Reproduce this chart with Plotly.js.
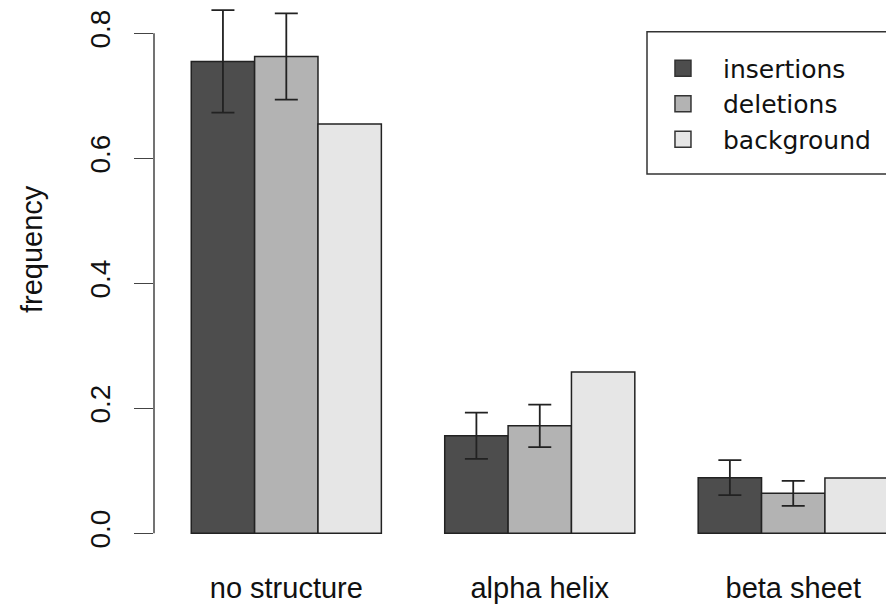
<!DOCTYPE html>
<html>
<head>
<meta charset="utf-8">
<script src="https://cdn.plot.ly/plotly-3.0.1.min.js"></script>
<style>
  html, body { margin: 0; padding: 0; background: #ffffff; }
  #chart { width: 886px; height: 604px; }
</style>
</head>
<body>
<div id="chart"></div>
<script>
// Secondary-structure context of indels vs. background frequency
const categories = ["no structure", "alpha helix", "beta sheet"];
const insertions = [0.755, 0.156, 0.089];
const insertionsErr = [0.082, 0.037, 0.028];
const deletions = [0.763, 0.172, 0.064];
const deletionsErr = [0.069, 0.034, 0.020];
const background = [0.655, 0.258, 0.0885];
const seriesNames = ["insertions", "deletions", "background"];
const seriesColors = ["#4d4d4d", "#b3b3b3", "#e6e6e6"];
const yTickVals = [0, 0.2, 0.4, 0.6, 0.8];
const yTickText = ["0.0", "0.2", "0.4", "0.6", "0.8"];

const FONT = "Liberation Sans, Arial, Helvetica, sans-serif";
const LEGEND_FONT = "DejaVu Sans, Verdana, sans-serif";
const outline = { color: "#222222", width: 1.5 };

function barTrace(i, y, err) {
  const t = {
    type: "bar",
    x: categories,
    y: y,
    name: seriesNames[i],
    showlegend: false,
    marker: { color: seriesColors[i], line: outline },
    hoverinfo: "skip"
  };
  if (err) {
    t.error_y = { type: "data", array: err, visible: true, color: "#222222", thickness: 1.8, width: 11.5 };
  }
  return t;
}

// legend keys: square swatches with an outline
function keyTrace(i) {
  return {
    type: "scatter",
    mode: "markers",
    x: [null],
    y: [null],
    name: seriesNames[i],
    marker: { symbol: "square", size: 19, color: seriesColors[i], line: { color: "#333333", width: 1.5 } },
    hoverinfo: "skip"
  };
}

const data = [
  barTrace(0, insertions, insertionsErr),
  barTrace(1, deletions, deletionsErr),
  barTrace(2, background, null),
  keyTrace(0), keyTrace(1), keyTrace(2)
];

const layout = {
  width: 886,
  height: 604,
  paper_bgcolor: "#ffffff",
  plot_bgcolor: "#ffffff",
  font: { family: FONT, size: 29, color: "#111111" },
  margin: { l: 154, r: 0, t: 0, b: 50, pad: 0 },
  barmode: "group",
  bargap: 0.25,
  bargroupgap: 0,
  xaxis: {
    type: "category",
    range: [-0.522, 2.366],
    showgrid: false,
    zeroline: false,
    showline: false,
    ticks: "",
    tickfont: { size: 29, family: FONT, color: "#111111" },
    ticklabelstandoff: 14,
    automargin: false,
    fixedrange: true
  },
  yaxis: {
    range: [-0.0331, 0.8533],
    showgrid: false,
    zeroline: false,
    showline: false,
    ticks: "outside",
    ticklen: 19,
    tickwidth: 1.5,
    tickcolor: "#444444",
    tickvals: yTickVals,
    ticktext: yTickText,
    tickangle: -90,
    tickfont: { size: 28, family: FONT, color: "#111111" },
    ticklabelstandoff: 13,
    automargin: false,
    fixedrange: true
  },
  shapes: [
    // axis line spanning only the labelled range
    { type: "line", xref: "paper", yref: "y", x0: 0, x1: 0, y0: 0, y1: 0.8,
      line: { color: "#444444", width: 1.5 } },
    // legend frame
    { type: "rect", xref: "paper", yref: "paper", x0: 0.6735, x1: 1.05, y0: 0.6859, y1: 0.9428,
      line: { color: "#333333", width: 1.5 }, fillcolor: "rgba(0,0,0,0)", layer: "above" }
  ],
  annotations: [
    { text: "frequency", xref: "paper", yref: "paper", x: -0.1667, y: 0.5505,
      xanchor: "center", yanchor: "middle", textangle: -90, showarrow: false,
      font: { size: 29, family: FONT, color: "#111111" } }
  ],
  showlegend: true,
  legend: {
    x: 0.668,
    y: 0.918,
    xanchor: "left",
    yanchor: "top",
    bgcolor: "rgba(0,0,0,0)",
    borderwidth: 0,
    itemwidth: 70,
    tracegroupgap: 0,
    font: { size: 25, family: LEGEND_FONT, color: "#111111" }
  }
};

Plotly.newPlot("chart", data, layout, { displayModeBar: false, staticPlot: true });
</script>
</body>
</html>
